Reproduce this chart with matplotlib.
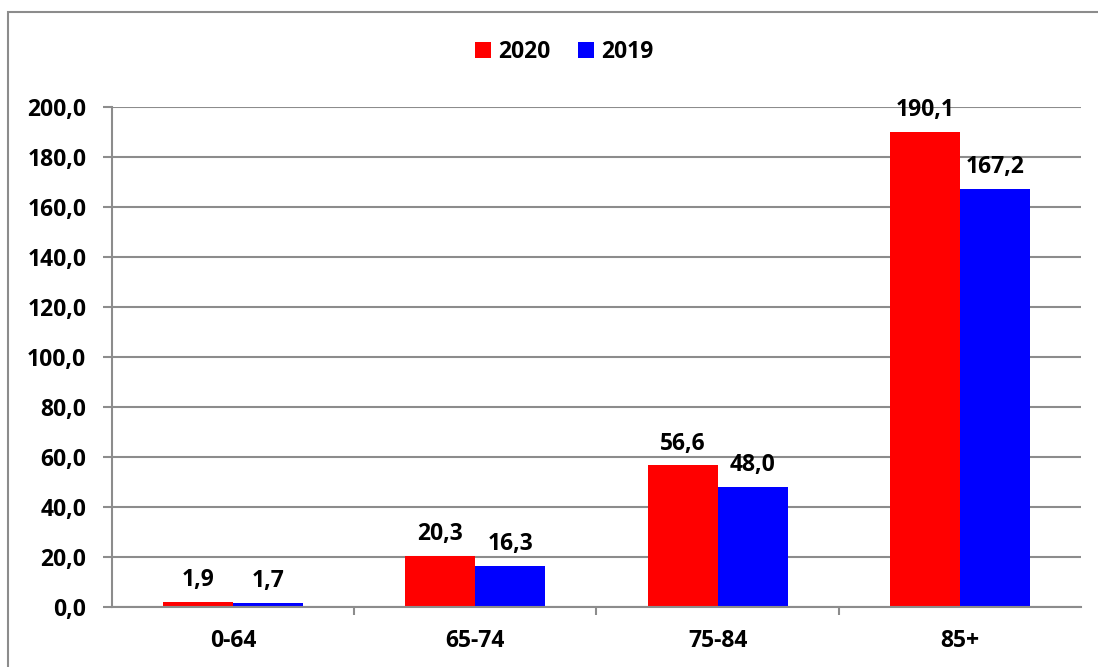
import matplotlib.pyplot as plt
import numpy as np
from matplotlib.patches import Rectangle

# rates per age group, two years
age_groups = ["0-64", "65-74", "75-84", "85+"]
values_2020 = [1.9, 20.3, 56.6, 190.1]
values_2019 = [1.7, 16.3, 48.0, 167.2]
y_ticks = [0, 20, 40, 60, 80, 100, 120, 140, 160, 180, 200]

plt.rcParams["font.family"] = ["Open Sans", "DejaVu Sans"]
plt.rcParams["font.weight"] = "bold"

grey = "#8c8c8c"
fs = 16.5
fig = plt.figure(figsize=(10.98, 6.67), dpi=100)
ax = fig.add_axes([0.102, 0.09, 0.8825, 0.7496])

x = np.arange(len(age_groups))
w = 0.289
bars_a = ax.bar(x - w / 2, values_2020, w, color="#ff0000", label="2020", zorder=3)
bars_b = ax.bar(x + w / 2, values_2019, w, color="#0000ff", label="2019", zorder=3)

for bars in (bars_a, bars_b):
    for b in bars:
        h = b.get_height()
        ax.annotate(f"{h:.1f}".replace(".", ","),
                    (b.get_x() + b.get_width() / 2, h),
                    xytext=(0, 7), textcoords="offset points",
                    ha="center", va="bottom", fontsize=fs, fontweight="bold")

ax.set_xlim(-0.5, len(age_groups) - 0.5)
ax.set_ylim(0, 200)
ax.set_yticks(y_ticks)
ax.set_yticklabels([f"{v:.1f}".replace(".", ",") for v in y_ticks],
                   fontsize=fs, fontweight="bold")
ax.set_xticks(x)
ax.set_xticklabels(age_groups, fontsize=fs, fontweight="bold")
ax.set_xticks(np.arange(0.5, len(age_groups) - 0.5), minor=True)
ax.tick_params(axis="x", which="major", length=0, pad=16)
ax.tick_params(axis="x", which="minor", length=6, width=1.5, color=grey)
ax.tick_params(axis="y", length=6.5, width=1.5, color=grey, pad=12)

ax.grid(axis="y", color=grey, linewidth=1.5, zorder=0)
for side in ("top", "right"):
    ax.spines[side].set_visible(False)
for side in ("left", "bottom"):
    ax.spines[side].set_color(grey)
    ax.spines[side].set_linewidth(1.5)
ax.spines["bottom"].set_zorder(4)

fig.legend(loc="center", bbox_to_anchor=(0.514, 0.922), ncol=2, frameon=False,
           prop={"size": fs, "weight": "bold"}, handlelength=0.7,
           handleheight=0.7, handletextpad=0.3, columnspacing=1.2)

# outer chart frame
fig.patches.append(Rectangle((8 / 1098, -0.05), 1.1, 1.05 - 12 / 667,
                             transform=fig.transFigure, fill=False,
                             edgecolor=grey, linewidth=1.5))

fig.savefig("out.png", dpi=100)
